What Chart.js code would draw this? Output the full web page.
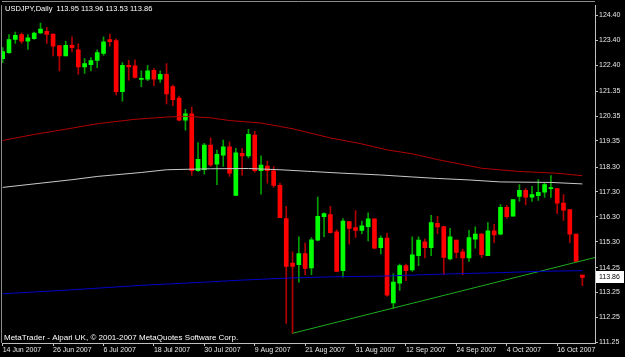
<!DOCTYPE html>
<html>
<head>
<meta charset="utf-8">
<script src="https://cdn.jsdelivr.net/npm/chart.js@4.4.0/dist/chart.umd.min.js"></script>
<style>
  html, body { margin: 0; padding: 0; background: #000; }
  canvas { display: block; }
</style>
</head>
<body>
<canvas id="canvas" width="625" height="357"></canvas>
<script>
// USDJPY daily bars, 14 Jun 2007 .. 22 Oct 2007 (bar index = position)
var opens=[122.66,122.90,123.43,123.63,123.36,123.46,123.69,123.76,123.65,123.19,
122.77,123.20,123.01,122.33,122.42,122.59,122.87,123.43,123.39,121.33,
122.39,122.37,121.82,121.83,122.19,121.83,122.03,121.54,121.07,120.18,
120.44,118.15,118.19,119.18,118.41,118.78,119.11,117.16,118.85,118.75,
119.58,118.15,118.34,118.15,117.56,116.23,114.44,114.37,114.82,114.24,
115.36,116.30,116.39,115.69,114.13,116.10,115.86,115.75,115.90,116.22,
115.06,115.44,112.83,113.63,114.33,114.16,114.73,115.29,115.06,116.03,
115.90,114.60,115.36,114.89,114.64,115.40,115.60,114.73,115.73,115.60,
116.68,116.32,117.12,117.36,117.09,117.15,117.29,117.43,117.43,116.85,
116.59,115.60,113.95];
var highs=[123.10,123.63,123.73,123.69,123.63,123.73,124.09,123.92,123.65,123.19,
123.36,123.54,123.26,122.66,122.70,123.01,123.54,123.65,123.46,122.50,
122.59,122.61,122.17,122.39,122.26,122.17,122.46,121.60,121.15,120.62,
120.71,119.28,119.25,119.47,118.98,119.38,119.31,119.05,119.05,119.82,
119.74,118.75,118.54,118.32,117.65,116.72,114.89,115.49,115.24,115.46,
117.09,116.46,116.72,115.77,116.23,116.10,116.55,116.12,116.46,116.22,
115.53,115.64,114.00,114.40,114.40,115.49,115.49,115.40,116.36,116.32,
115.90,115.83,115.36,115.00,115.75,115.89,115.62,116.06,115.99,116.79,
116.76,116.99,117.59,117.43,117.52,117.79,117.65,117.96,117.43,117.19,
116.59,115.60,113.96];
var lows=[122.50,122.87,123.27,123.27,123.03,123.43,123.67,123.27,122.77,122.17,
122.77,122.93,122.03,122.07,122.17,122.30,122.79,123.16,121.20,120.95,
121.79,121.87,121.53,121.77,121.57,121.70,120.84,120.77,120.15,119.78,
117.96,118.12,118.01,118.32,117.59,118.32,117.92,117.16,117.96,118.67,
118.09,117.21,117.65,117.48,116.26,112.01,111.61,113.67,113.97,113.97,
115.33,115.50,115.64,114.10,113.87,115.20,115.46,115.62,115.33,115.00,
114.80,113.10,112.61,113.34,113.73,114.10,114.33,114.64,114.73,115.62,
113.97,114.56,114.64,113.97,114.50,115.04,114.66,114.73,115.26,115.57,
116.23,116.32,116.92,116.79,116.92,116.96,117.08,117.08,116.42,116.15,
115.26,114.50,113.53];
var closes=[122.94,123.43,123.60,123.36,123.50,123.69,123.85,123.63,123.16,122.77,
123.20,123.10,122.33,122.46,122.58,122.90,123.34,123.34,121.33,122.39,
122.33,121.90,121.87,122.17,121.83,122.03,121.24,121.01,120.18,120.44,
118.15,118.61,119.18,118.38,118.81,119.11,118.05,118.87,118.75,119.62,
118.15,118.38,118.15,117.56,116.26,114.30,114.30,114.82,114.22,115.37,
116.32,116.43,115.66,114.10,116.12,115.83,115.75,115.93,116.22,115.04,
115.44,113.14,113.67,114.33,114.13,114.77,115.36,115.06,116.06,115.89,
114.66,115.49,114.86,114.64,115.46,115.60,114.77,115.73,115.57,116.68,
116.30,116.99,117.36,117.09,117.19,117.28,117.59,117.45,116.85,116.56,
115.60,114.50,113.86];

// moving averages, read at some bars
var maRedIdx=[0,5,10,15,21,26,29,33,36,41,46,52,57,61,65,69,76,82,88,92];
var maRedVal=[119.37,119.61,119.82,120.04,120.22,120.31,120.34,120.28,120.17,120.07,
119.84,119.47,119.23,118.99,118.83,118.60,118.25,118.12,118.05,117.95];
var maWhiteIdx=[0,11,15,22,26,33,39,44,49,54,60,65,69,74,79,87,92];
var maWhiteVal=[117.48,117.79,117.92,118.08,118.19,118.23,118.24,118.19,118.12,118.05,
117.98,117.90,117.84,117.78,117.70,117.68,117.62];
var maBlueIdx=[0,11,22,33,38,46,54,60,71,79,85,92];
var maBlueVal=[113.20,113.36,113.54,113.68,113.75,113.84,113.89,113.91,114.00,114.05,114.10,114.13];

// trend line (bar index, price)
var trendIdx=[46,94];
var trendVal=[111.61,114.66];

var dateIdx=[0,8,16,24,32,40,48,56,64,72,80,88];
var dateLabels=["14 Jun 2007","26 Jun 2007","6 Jul 2007","18 Jul 2007","30 Jul 2007","9 Aug 2007",
  "21 Aug 2007","31 Aug 2007","12 Sep 2007","24 Sep 2007","4 Oct 2007","16 Oct 2007"];
var priceTicks=[124.40,123.40,122.40,121.35,120.35,119.35,118.30,117.30,116.30,115.30,114.25,113.25,112.25,111.25];

var headerText="USDJPY,Daily  113.95 113.96 113.53 113.86";
var footerText="MetaTrader - Alpari UK, \u00a9 2001-2007 MetaQuotes Software Corp.";

var bodies=[], wicks=[], bodyCol=[], wickCol=[];
for (var i=0;i<opens.length;i++) {
  bodies.push({x:i, y:[opens[i],closes[i]]});
  wicks.push({x:i, y:[lows[i],highs[i]]});
  var up=closes[i]>=opens[i];
  bodyCol.push(up?"#00ff00":"#ff0000");
  wickCol.push(up?"#00a000":"#b00000");
}
function pts(ix,vals){ return ix.map(function(v,k){ return {x:v,y:vals[k]}; }); }

var FONT="'Liberation Sans', Arial, sans-serif";

var overlay={
  id:"overlay",
  beforeDraw:function(chart){
    var c=chart.ctx;
    c.save(); c.fillStyle="#000"; c.fillRect(0,0,chart.width,chart.height); c.restore();
  },
  afterDraw:function(chart){
    var c=chart.ctx, a=chart.chartArea;
    c.save();
    c.strokeStyle="#8c8c8c"; c.lineWidth=1;
    c.beginPath(); c.moveTo(a.left,1.5); c.lineTo(a.right,1.5); c.stroke();
    c.beginPath(); c.moveTo(1.5,a.top); c.lineTo(1.5,a.bottom); c.stroke();
    c.fillStyle="#ffffff"; c.font="7.5px "+FONT; c.textBaseline="middle"; c.textAlign="left";
    c.fillText(headerText,5,8.5);
    c.font="8px "+FONT;
    c.fillText(footerText,4,337.5);
    c.font="7px "+FONT;
    var last=closes[closes.length-1];
    var y=chart.scales.y.getPixelForValue(last);
    c.fillStyle="#ffffff"; c.fillRect(596,Math.round(y)-6,28,12);
    c.fillStyle="#000000"; c.fillText(last.toFixed(2),599,y);
    c.restore();
  }
};

var config={
  type:"bar",
  data:{datasets:[
    {type:"line", data:pts(maRedIdx,maRedVal), borderColor:"#b00000", borderWidth:1, pointRadius:0, order:0},
    {type:"line", data:pts(maWhiteIdx,maWhiteVal), borderColor:"#c8c8c8", borderWidth:1, pointRadius:0, order:0},
    {type:"line", data:pts(maBlueIdx,maBlueVal), borderColor:"#0000c8", borderWidth:1, pointRadius:0, order:0},
    {type:"line", data:pts(trendIdx,trendVal), borderColor:"#1faa1f", borderWidth:1, pointRadius:0, order:0},
    {data:bodies, backgroundColor:bodyCol, barThickness:4, minBarLength:1, grouped:false, order:1},
    {data:wicks, backgroundColor:wickCol, barThickness:1, grouped:false, order:2}
  ]},
  options:{
    responsive:false, animation:false, devicePixelRatio:1,
    layout:{padding:{left:2, top:2, right:0, bottom:0}},
    plugins:{legend:{display:false}, tooltip:{enabled:false}},
    scales:{
      x:{
        type:"linear", min:-0.11, max:94, offset:false,
        afterBuildTicks:function(s){ s.ticks=dateIdx.map(function(v){return {value:v};}); },
        afterFit:function(s){ s.height=14; },
        ticks:{autoSkip:false, maxRotation:0, align:"start", padding:0, color:"#e8e8e8",
          font:{family:FONT, size:7},
          callback:function(v){ var k=dateIdx.indexOf(v); return k<0?"":dateLabels[k]; }},
        grid:{drawOnChartArea:false, offset:false, tickLength:3, color:"#c0c0c0"},
        border:{display:true, color:"#c0c0c0"}
      },
      y:{
        position:"right", min:111.22, max:124.81,
        afterBuildTicks:function(s){ s.ticks=priceTicks.map(function(v){return {value:v};}); },
        afterFit:function(s){ s.width=30; },
        ticks:{padding:1, color:"#e8e8e8", font:{family:FONT, size:7},
          callback:function(v){ return Number(v).toFixed(2); }},
        grid:{drawOnChartArea:false, tickLength:3, color:"#c0c0c0"},
        border:{display:true, color:"#c0c0c0"}
      }
    }
  },
  plugins:[overlay]
};

window.onload=function(){
  var ctx=document.getElementById("canvas").getContext("2d");
  window.graph1=new Chart(ctx,config);
};
</script>
</body>
</html>
